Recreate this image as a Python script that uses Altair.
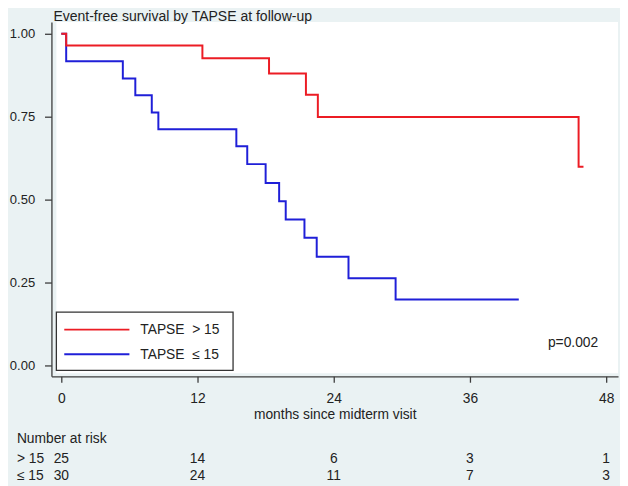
import altair as alt
import pandas as pd

# ---- data ----
red_time = [0, 0.43, 12.43, 18.3, 21.55, 22.6, 45.57, 46.0]
red_surv = [1.0, 0.965, 0.926, 0.880, 0.816, 0.749, 0.599, 0.599]

blue_time = [0, 0.43, 5.42, 6.52, 7.97, 8.55, 15.42, 16.38, 18.0, 19.19, 19.77, 21.42, 22.5, 25.3, 29.45, 40.3]
blue_surv = [1.0, 0.917, 0.865, 0.815, 0.763, 0.712, 0.661, 0.607, 0.550, 0.495, 0.440, 0.385, 0.328, 0.263, 0.199, 0.199]

legend_labels = ["TAPSE\u00a0\u00a0> 15", "TAPSE\u00a0\u00a0\u2264 15"]
row_labels = ["> 15", "\u2264 15"]
risk_times = [0, 12, 24, 36, 48]
risk_hi = [25, 14, 6, 3, 1]
risk_lo = [30, 24, 11, 7, 3]
x_ticks = [0, 12, 24, 36, 48]
y_ticks = [0, 0.25, 0.5, 0.75, 1.0]
title_text = "Event-free survival by TAPSE at follow-up"
p_text = "p=0.002"
x_title = "months since midterm visit"

RED = "#ec1c24"
BLUE = "#1f1fd8"
BG = "#eaf2f3"
AX = "#3c3c3c"
TXT = "#222222"
FONT = "Liberation Sans"
FS = 14

W, H = 574, 359

xscale = alt.Scale(domain=[-0.8696, 49.0435], nice=False, zero=False)
yscale = alt.Scale(domain=[-0.0327, 1.0357], nice=False, zero=False)

red_df = pd.DataFrame({"t": red_time, "s": red_surv})
blue_df = pd.DataFrame({"t": blue_time, "s": blue_surv})
one = pd.DataFrame({"k": [0]})
risk_df = pd.DataFrame({"t": risk_times, "hi": risk_hi, "lo": risk_lo})

xaxis = alt.Axis(values=x_ticks, format="d", tickSize=6, labelPadding=10, grid=False,
                 labelFlush=False, labelFontSize=FS, title=x_title, titleFontSize=FS,
                 titleFontWeight="normal", titleFont=FONT, titleColor=TXT, titleY=43,
                 titleBaseline="alphabetic")
yaxis = alt.Axis(values=y_ticks, format=".2f", tickSize=7, labelPadding=10, grid=False,
                 labelFlush=False, labelFontSize=13.2)

white = alt.Chart(one).mark_rect(fill="white", stroke=None).encode(
    x=alt.value(5), x2=alt.value(W), y=alt.value(0), y2=alt.value(H - 3))

blue_line = alt.Chart(blue_df).mark_line(interpolate="step-after", strokeWidth=2, color=BLUE).encode(
    x=alt.X("t:Q", scale=xscale, axis=xaxis),
    y=alt.Y("s:Q", scale=yscale, axis=yaxis, title=None),
)
red_line = alt.Chart(red_df).mark_line(interpolate="step-after", strokeWidth=2, color=RED).encode(
    x=alt.X("t:Q", scale=xscale),
    y=alt.Y("s:Q", scale=yscale),
)

# legend (drawn manually inside plot area)
leg_box = alt.Chart(one).mark_rect(fill="white", stroke="#333333", strokeWidth=1.3).encode(
    x=alt.value(5), x2=alt.value(184), y=alt.value(294), y2=alt.value(353))
leg_red = alt.Chart(one).mark_rule(color=RED, strokeWidth=2).encode(
    x=alt.value(13), x2=alt.value(79), y=alt.value(311.7))
leg_blue = alt.Chart(one).mark_rule(color=BLUE, strokeWidth=2).encode(
    x=alt.value(13), x2=alt.value(79), y=alt.value(336.7))
leg_df = pd.DataFrame({"label": legend_labels})
leg_t1 = alt.Chart(leg_df.iloc[[0]]).mark_text(align="left", baseline="middle", font=FONT, fontSize=FS, color=TXT).encode(
    x=alt.value(90), y=alt.value(312.5), text="label:N")
leg_t2 = alt.Chart(leg_df.iloc[[1]]).mark_text(align="left", baseline="middle", font=FONT, fontSize=FS, color=TXT).encode(
    x=alt.value(90), y=alt.value(337.5), text="label:N")

p_lab = alt.Chart(pd.DataFrame({"p": [p_text]})).mark_text(align="left", baseline="middle", font=FONT, fontSize=FS, color=TXT).encode(
    x=alt.value(503), y=alt.value(325), text="p:N")

title = alt.Chart(pd.DataFrame({"t": [title_text]})).mark_text(align="left", baseline="alphabetic", font=FONT, fontSize=14.2, color=TXT).encode(
    x=alt.value(2), y=alt.value(-1), text="t:N")

# number at risk table
nar = alt.Chart(pd.DataFrame({"t": ["Number at risk"]})).mark_text(align="left", baseline="middle", font=FONT, fontSize=FS, color=TXT).encode(
    x=alt.value(-35), y=alt.value(423), text="t:N")
row_df = pd.DataFrame({"r": row_labels})
row1 = alt.Chart(row_df.iloc[[0]]).mark_text(align="left", baseline="middle", font=FONT, fontSize=FS, color=TXT).encode(
    x=alt.value(-35), y=alt.value(443), text="r:N")
row2 = alt.Chart(row_df.iloc[[1]]).mark_text(align="left", baseline="middle", font=FONT, fontSize=FS, color=TXT).encode(
    x=alt.value(-35), y=alt.value(460.5), text="r:N")
hi_txt = alt.Chart(risk_df).mark_text(align="center", baseline="middle", font=FONT, fontSize=FS, color=TXT).encode(
    x=alt.X("t:Q", scale=xscale), y=alt.value(443), text="hi:Q")
lo_txt = alt.Chart(risk_df).mark_text(align="center", baseline="middle", font=FONT, fontSize=FS, color=TXT).encode(
    x=alt.X("t:Q", scale=xscale), y=alt.value(460.5), text="lo:Q")

chart = alt.layer(
    white, blue_line, red_line, leg_box, leg_red, leg_blue, leg_t1, leg_t2, p_lab, title,
    nar, row1, row2, hi_txt, lo_txt
).properties(
    width=W, height=H, background=BG, autosize="none",
    padding={"left": 44, "top": 11, "right": 2, "bottom": 108},
).configure_view(strokeWidth=0).configure_axis(
    domainColor=AX, tickColor=AX, domainWidth=1.3, tickWidth=1.3,
    labelColor=TXT, labelFont=FONT,
)

chart.save("out.html", embed_options={"renderer": "svg", "actions": False})
